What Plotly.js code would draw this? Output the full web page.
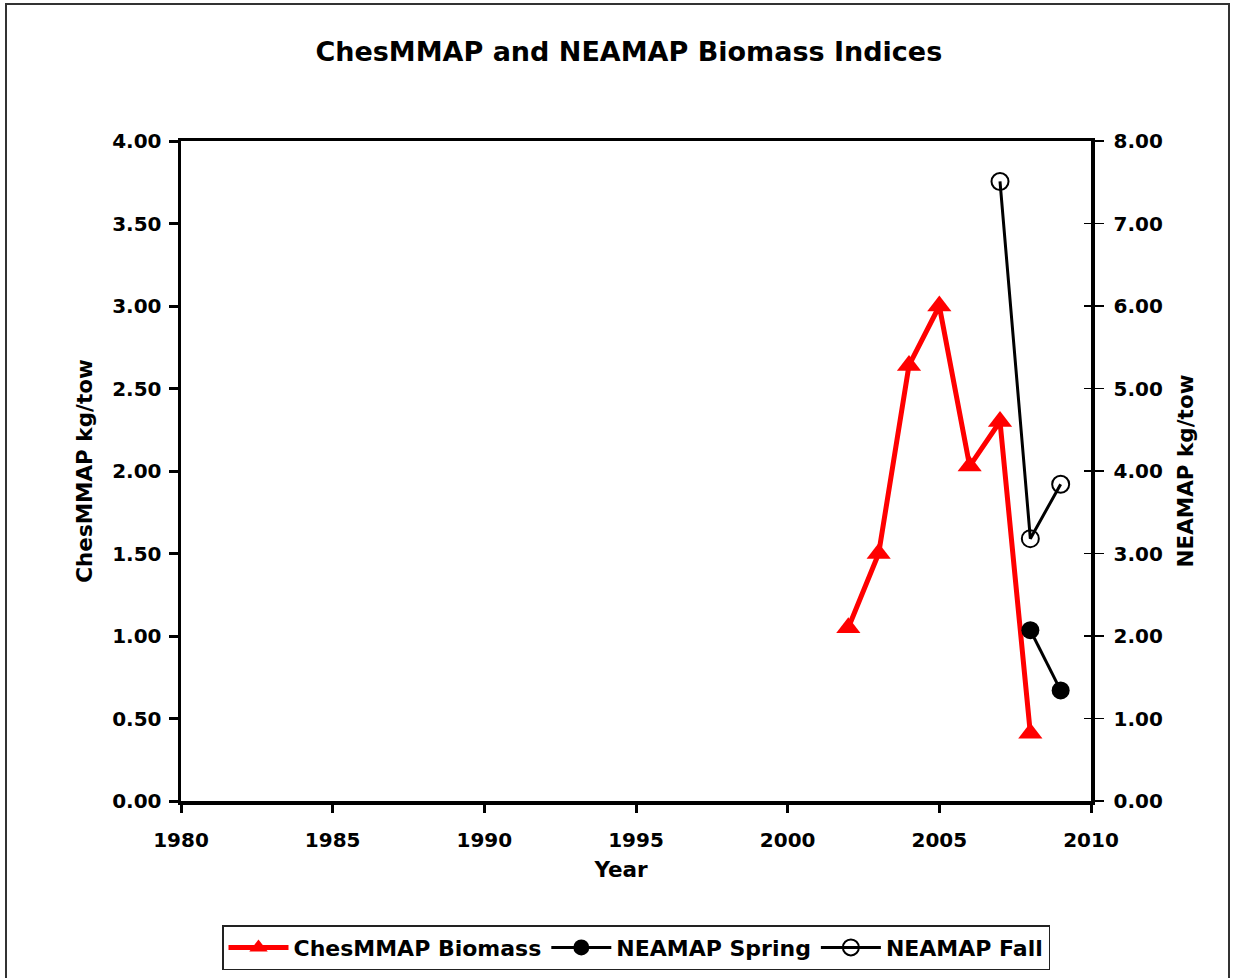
<!DOCTYPE html>
<html>
<head>
<meta charset="utf-8">
<script src="https://cdn.plot.ly/plotly-3.0.1.min.js"></script>
<style>
  html, body { margin: 0; padding: 0; background: #fff; }
  #wrap { position: relative; width: 1233px; height: 978px; }
  #chart { position: absolute; left: 0; top: 0; width: 1233px; height: 978px; }
  #frame { position: absolute; left: 5px; top: 3px; width: 1225px; height: 985px;
           border: 2px solid #333; box-sizing: border-box; pointer-events: none; }
</style>
</head>
<body>
<div id="wrap">
  <div id="chart"></div>
  <div id="frame"></div>
</div>
<script>
// ---- data ----
const chesYears   = [2002, 2003, 2004, 2005, 2006, 2007, 2008];
const chesBiomass = [1.05, 1.50, 2.64, 3.00, 2.03, 2.30, 0.41];

const springYears = [2008, 2009];
const neamapSpring = [2.07, 1.34];

const fallYears = [2007, 2008, 2009];
const neamapFall = [7.51, 3.18, 3.84];

const xTicks = [1980, 1985, 1990, 1995, 2000, 2005, 2010];
const leftTicks = [0, 0.5, 1, 1.5, 2, 2.5, 3, 3.5, 4];
const rightTicks = [0, 1, 2, 3, 4, 5, 6, 7, 8];

const FONT = 'DejaVu Sans, Liberation Sans, Arial, sans-serif';
const tickFont = {family: FONT, size: 20, color: '#000', weight: 'bold'};
const axTitleFont = {family: FONT, size: 21.5, color: '#000', weight: 'bold'};

const traces = [
  {
    x: chesYears, y: chesBiomass, name: 'ChesMMAP Biomass',
    type: 'scatter', mode: 'lines+markers', yaxis: 'y',
    line: {color: '#ff0000', width: 5},
    marker: {symbol: 'triangle-up', size: 21, color: '#ff0000'}
  },
  {
    x: springYears, y: neamapSpring, name: 'NEAMAP Spring',
    type: 'scatter', mode: 'lines+markers', yaxis: 'y2',
    line: {color: '#000', width: 3},
    marker: {symbol: 'circle', size: 18, color: '#000'}
  },
  {
    x: fallYears, y: neamapFall, name: 'NEAMAP Fall',
    type: 'scatter', mode: 'lines+markers', yaxis: 'y2',
    line: {color: '#000', width: 3},
    marker: {symbol: 'circle-open', size: 17, color: '#000', line: {width: 2, color: '#000'}}
  }
];

const layout = {
  width: 1233, height: 978,
  margin: {l: 181, r: 142, t: 141, b: 177, autoexpand: false},
  paper_bgcolor: '#fff', plot_bgcolor: '#fff',
  showlegend: true,
  title: {
    text: 'ChesMMAP and NEAMAP Biomass Indices',
    font: {family: FONT, size: 27, color: '#000', weight: 'bold'},
    x: 0.51, xanchor: 'center', y: 0.947, yanchor: 'middle'
  },
  xaxis: {
    range: [1980, 2010], tickvals: xTicks, ticktext: xTicks.map(String),
    showgrid: false, zeroline: false,
    showline: true, linecolor: '#000', linewidth: 3.5, mirror: true,
    ticks: 'outside', ticklen: 8, tickwidth: 3, tickcolor: '#000',
    ticklabelstandoff: 10,
    tickfont: tickFont,
    title: {text: 'Year&nbsp;&nbsp;&nbsp;&nbsp;', font: axTitleFont, standoff: 12},
    fixedrange: true
  },
  yaxis: {
    range: [0, 4], tickvals: leftTicks, ticktext: leftTicks.map(v => v.toFixed(2)),
    showgrid: false, zeroline: false,
    showline: true, linecolor: '#000', linewidth: 3.5,
    ticks: 'outside', ticklen: 9, tickwidth: 3, tickcolor: '#000',
    ticklabelstandoff: 3,
    tickfont: tickFont,
    title: {text: 'ChesMMAP kg/tow', font: axTitleFont, standoff: 14},
    fixedrange: true
  },
  yaxis2: {
    range: [0, 8], tickvals: rightTicks, ticktext: rightTicks.map(v => v.toFixed(2)),
    overlaying: 'y', side: 'right',
    showgrid: false, zeroline: false,
    showline: true, linecolor: '#000', linewidth: 3.5,
    ticks: 'outside', ticklen: 9, tickwidth: 1.5, tickcolor: '#000',
    ticklabelstandoff: 6,
    tickfont: tickFont,
    title: {text: 'NEAMAP kg/tow', font: axTitleFont, standoff: 17},
    fixedrange: true
  },
  yaxis3: {
    range: [0, 8], tickvals: rightTicks, overlaying: 'y', side: 'right',
    showticklabels: false, showgrid: false, zeroline: false, showline: false,
    ticks: 'inside', ticklen: 7, tickwidth: 1.5, tickcolor: '#000', fixedrange: true
  },
  legend: {
    orientation: 'h', x: 0.5, xanchor: 'center', y: -0.188, yanchor: 'top',
    bordercolor: '#222', borderwidth: 1.5, bgcolor: '#fff',
    font: {family: FONT, size: 22, color: '#000', weight: 'bold'},
    itemwidth: 60, itemsizing: 'trace', tracegroupgap: 0
  }
};

// dummy trace to activate the inside-tick overlay axis
traces.push({x: [1980], y: [null], yaxis: 'y3', showlegend: false, hoverinfo: 'skip', type: 'scatter', mode: 'markers'});

Plotly.newPlot('chart', traces, layout, {displayModeBar: false, staticPlot: true});
</script>
</body>
</html>
